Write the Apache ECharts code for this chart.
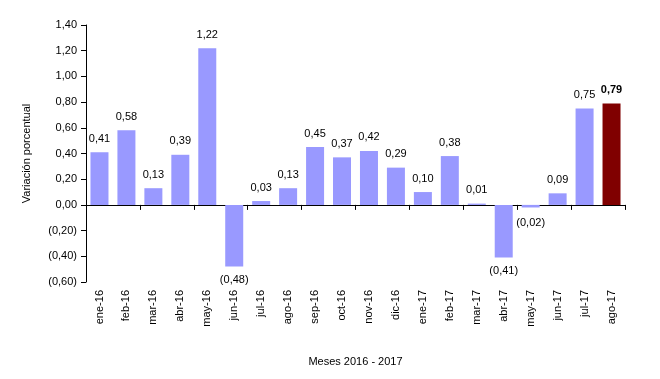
<!DOCTYPE html>
<html><head><meta charset="utf-8">
<script src="https://cdn.jsdelivr.net/npm/echarts@6/dist/echarts.min.js"></script>
<style>html,body{margin:0;padding:0;background:#fff}#c{width:660px;height:379px}</style>
</head><body><div id="c"></div>
<script>
const categories = ['ene-16','feb-16','mar-16','abr-16','may-16','jun-16','jul-16','ago-16','sep-16','oct-16','nov-16','dic-16','ene-17','feb-17','mar-17','abr-17','may-17','jun-17','jul-17','ago-17'];
const values = [0.41,0.58,0.13,0.39,1.22,-0.48,0.03,0.13,0.45,0.37,0.42,0.29,0.10,0.38,0.01,-0.41,-0.02,0.09,0.75,0.79];
const yTicks = [-0.6,-0.4,-0.2,0,0.2,0.4,0.6,0.8,1.0,1.2,1.4];

const fmt = v => {
  const s = Math.abs(v).toFixed(2).replace('.', ',');
  return v < -1e-9 ? '(' + s + ')' : s;
};
const font = 'Liberation Sans, Arial, sans-serif';
const last = values.length - 1;
const data = values.map((v, i) => {
  const d = { value: v, itemStyle: { color: i === last ? '#800000' : '#9999FF' } };
  d.label = { position: v < 0 ? 'bottom' : 'top', distance: v < 0 ? 8 : 8 };
  if (v < 0 && v > -0.1) d.label.distance = 10;
  if (i === last) d.label.fontWeight = 'bold';
  return d;
});
const chart = echarts.init(document.getElementById('c'));
chart.setOption({
  animation: false,
  grid: { left: 86, right: 35, top: 25, bottom: 97 },
  xAxis: [{
    type: 'category', data: categories,
    axisLine: { onZero: true, lineStyle: { color: '#000', width: 1 } },
    axisTick: { show: true, length: 5, inside: false, lineStyle: { color: '#000' } },
    axisLabel: { show: false }
  }, {
    type: 'category', data: categories, position: 'bottom',
    axisLine: { show: false }, axisTick: { show: false },
    axisLabel: { rotate: 90, color: '#000', fontSize: 11, fontFamily: font, margin: 8, interval: 0 },
    name: 'Meses 2016 - 2017', nameLocation: 'middle', nameGap: 74,
    nameTextStyle: { color: '#000', fontSize: 11, fontFamily: font }
  }],
  yAxis: {
    type: 'value', min: -0.6, max: 1.4, interval: 0.2,
    axisLine: { show: true, lineStyle: { color: '#000' } },
    axisTick: { show: true, length: 5, lineStyle: { color: '#000' } },
    splitLine: { show: false },
    axisLabel: { color: '#000', fontSize: 11, fontFamily: font, margin: 9,
      formatter: v => fmt(yTicks.reduce((a, b) => Math.abs(b - v) < Math.abs(a - v) ? b : a)) },
    name: 'Variación porcentual', nameLocation: 'middle', nameGap: 54, nameRotate: 90,
    nameTextStyle: { color: '#000', fontSize: 11, fontFamily: font }
  },
  series: [{
    type: 'bar', data: data, barWidth: 18, xAxisIndex: 0,
    label: { show: true, color: '#000', fontSize: 11, fontFamily: font,
      formatter: p => fmt(p.value) }
  }]
});
</script></body></html>
